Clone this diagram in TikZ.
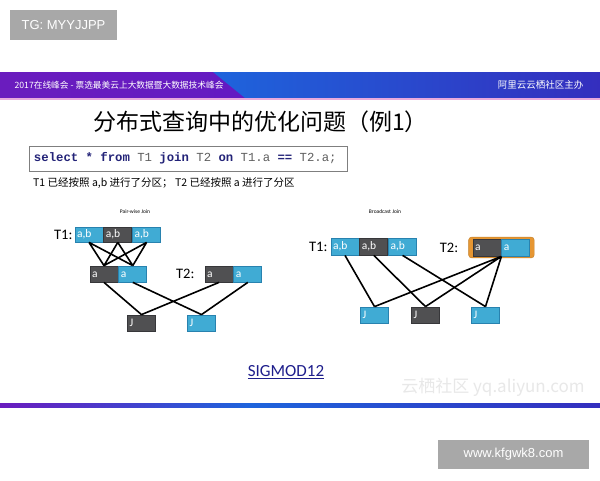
\documentclass[tikz,border=0pt]{standalone}
\usepackage{fontspec}
\setmainfont{Carlito}
\newfontfamily\cjkfont{Noto Sans CJK SC}
\newfontfamily\codefont{Liberation Mono}
\newfontfamily\markfont{Liberation Sans}
\usetikzlibrary{positioning, fit, backgrounds}
\definecolor{CellBlue}{RGB}{64, 171, 212}
\definecolor{CellBlueEdge}{RGB}{40, 130, 175}
\definecolor{CellDark}{RGB}{80, 80, 82}
\definecolor{CellDarkEdge}{RGB}{55, 55, 58}
\definecolor{CodeNavy}{RGB}{35, 35, 120}
\definecolor{CodeGray}{RGB}{95, 95, 95}
\definecolor{BannerPurple}{RGB}{106, 28, 190}
\definecolor{BannerBlue}{RGB}{30, 100, 220}
\definecolor{BannerDeep}{RGB}{52, 46, 190}
\definecolor{BannerPink}{RGB}{232, 170, 220}
\definecolor{MarkGray}{RGB}{168, 168, 168}
\definecolor{LinkNavy}{RGB}{30, 30, 140}
\definecolor{FrameOrange}{RGB}{230, 150, 50}
\newcommand{\sqlkw}[1]{\textcolor{CodeNavy}{\bfseries #1}}
\newcommand{\sqlsp}{\hspace*{0.6em}}

\begin{document}
\begin{tikzpicture}[x=1pt, y=-1pt,
        node distance=0pt,
        cell/.style={draw, line width=0.8pt, minimum height=16pt, text width=24pt, text height=7pt, text depth=1pt, inner xsep=2pt, inner ysep=0pt, align=left, text=white, font=\fontsize{11.5}{12}\selectfont},
        bcell/.style={cell, fill=CellBlue, draw=CellBlueEdge},
        dcell/.style={cell, fill=CellDark, draw=CellDarkEdge},
        tlabel/.style={anchor=east, inner sep=0pt, font=\fontsize{14.5}{16}\selectfont},
        link/.style={line width=1.6pt, black},
        minititle/.style={font=\fontsize{5.5}{6}\selectfont},
        markbox/.style={fill=MarkGray, text=white, inner sep=0pt, font=\markfont\fontsize{13}{14}\selectfont}
    ]
        \begin{scope}[on background layer]
            \fill[white] (0,0) rectangle (600,480);
        \end{scope}
        \useasboundingbox (0,0) rectangle (600,480);

        % Watermarks
        \node[markbox, minimum width=107pt, minimum height=30pt] (tgmark) at (63.5,25) {TG: MYYJJPP};
        \node[markbox, minimum width=151pt, minimum height=29pt] (wwwmark) at (513.5,454.5) {www.kfgwk8.com};

        % Banner
        \shade[left color=BannerPurple, right color=BannerPurple!85!blue] (0,72) rectangle (600,98);
        \shade[left color=BannerBlue, right color=BannerDeep] (213,72) -- (600,72) -- (600,98) -- (245,98) -- cycle;
        \draw[BannerPink, line width=1.2pt] (0,99) -- (600,99);
        \node[anchor=west, text=white, font=\cjkfont\fontsize{8.7}{10}\selectfont] (event) at (11,85) {2017在线峰会 - 票选最美云上大数据暨大数据技术峰会};
        \node[anchor=east, text=white, font=\cjkfont\fontsize{9.5}{10}\selectfont] (host) at (587,85) {阿里云云栖社区主办};

        % Title, query and note
        \node[font=\cjkfont\fontsize{23}{27}\selectfont] (title) at (260.5,121.5) {分布式查询中的优化问题（例1）};
        \node[draw=CodeGray!80, line width=0.6pt, minimum width=318pt, minimum height=25pt, inner xsep=5pt, text width=308pt, align=left, text=CodeGray, font=\codefont\fontsize{12.3}{14}\selectfont] (query) at (188,158.5) {\sqlkw{select}\sqlsp\sqlkw{*}\sqlsp\sqlkw{from}\sqlsp T1\sqlsp\sqlkw{join}\sqlsp T2\sqlsp\sqlkw{on}\sqlsp T1.a\sqlsp\sqlkw{==}\sqlsp T2.a;};
        \node[anchor=west, inner xsep=0pt, font=\cjkfont\fontsize{10.5}{12}\selectfont] (note) at (33,183) {T1 已经按照 a,b 进行了分区； T2 已经按照 a 进行了分区};

        % Pair-wise Join
        \node[minititle] (pwtitle) at (135,212) {Pair-wise Join};
        \node[bcell, minimum height=15pt] (l1a) at (89,234.5) {a,b};
        \node[dcell, minimum height=15pt, right=of l1a] (l1b) {a,b};
        \node[bcell, minimum height=15pt, right=of l1b] (l1c) {a,b};
        \node[tlabel, left=2pt of l1a] (l1lab) {T1:};
        \node[dcell] (lma) at (104,274) {a};
        \node[bcell, right=of lma] (lmb) {a};
        \node[dcell] (l2a) at (219,274) {a};
        \node[bcell, right=of l2a] (l2b) {a};
        \node[tlabel, left=10pt of l2a] (l2lab) {T2:};
        \node[dcell] (lja) at (141.5,323) {J};
        \node[bcell] (ljb) at (201.5,323) {J};

        \draw[link] (l1a.south) -- (lma.north) (l1a.south) -- (lmb.north)
                    (l1b.south) -- (lma.north) (l1b.south) -- (lmb.north)
                    (l1c.south) -- (lma.north) (l1c.south) -- (lmb.north);
        \draw[link] (lma.south) -- (lja.north) (lmb.south) -- (ljb.north)
                    (l2a.south) -- (lja.north) (l2b.south) -- (ljb.north);

        % Broadcast Join
        \node[minititle] (bctitle) at (385,212) {Broadcast Join};
        \node[bcell, minimum height=17pt] (r1a) at (345,246.5) {a,b};
        \node[dcell, minimum height=17pt, right=of r1a] (r1b) {a,b};
        \node[bcell, minimum height=17pt, right=of r1b] (r1c) {a,b};
        \node[tlabel, left=3pt of r1a] (r1lab) {T1:};
        \node[dcell, minimum height=17pt] (r2a) at (487,247.5) {a};
        \node[bcell, minimum height=17pt, right=of r2a] (r2b) {a};
        \begin{scope}[on background layer]
            \node[fit=(r2a)(r2b), fill=FrameOrange, draw=FrameOrange!85!black, rounded corners=3pt, inner xsep=4pt, inner ysep=1.5pt] (r2frame) {};
        \end{scope}
        \node[tlabel, left=10pt of r2frame] (r2lab) {T2:};
        \node[bcell] (rja) at (374.5,315) {J};
        \node[dcell] (rjb) at (425.5,315) {J};
        \node[bcell] (rjc) at (485.5,315) {J};

        \draw[link] (r1a.south) -- (rja.north) (r1b.south) -- (rjb.north) (r1c.south) -- (rjc.north);
        \draw[link] (r2b.south west) -- (rja.north) (r2b.south west) -- (rjb.north) (r2b.south west) -- (rjc.north);

        % Footer
        \node[text=LinkNavy, font=\fontsize{17}{19}\selectfont] (source) at (286,372) {\underline{SIGMOD12}};
        \node[text=gray!18, font=\cjkfont\fontsize{17}{19}\selectfont] (sitemark) at (493,387) {云栖社区 yq.aliyun.com};
        \shade[left color=BannerPurple, right color=BannerBlue] (0,403) rectangle (250,407);
        \shade[left color=BannerBlue, right color=BannerDeep] (250,403) rectangle (600,407);
    \end{tikzpicture}
\end{document}
